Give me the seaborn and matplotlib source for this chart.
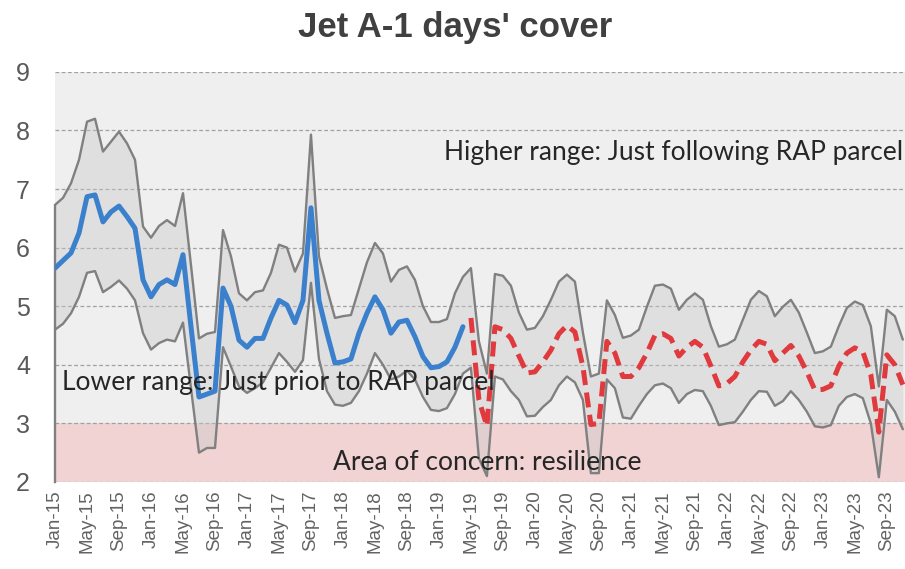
import numpy as np
import pandas as pd
import seaborn as sns
import matplotlib.pyplot as plt

# monthly series, Jan-15 .. Nov-23
months = pd.date_range("2015-01-01", periods=107, freq="MS")

upper = [6.73, 6.85, 7.1, 7.5, 8.15, 8.2, 7.64, 7.81, 7.98, 7.78, 7.5, 6.36,
         6.17, 6.37, 6.47, 6.37, 6.93, 5.7, 4.45, 4.53, 4.56, 6.3, 5.85, 5.22,
         5.1, 5.24, 5.27, 5.57, 6.05, 6.0, 5.59, 5.9, 7.93, 5.85, 5.3, 4.8,
         4.83, 4.85, 5.3, 5.75, 6.08, 5.9, 5.42, 5.62, 5.68, 5.45, 5.0, 4.73,
         4.73, 4.78, 5.22, 5.5, 5.65, 4.4, 3.85, 5.55, 5.52, 5.35, 4.89, 4.6,
         4.63, 4.83, 5.11, 5.42, 5.54, 5.42, 4.55, 3.8, 3.85, 5.1, 4.85, 4.46,
         4.5, 4.6, 4.99, 5.35, 5.37, 5.3, 4.94, 5.11, 5.22, 5.11, 4.66, 4.31,
         4.35, 4.43, 4.77, 5.11, 5.26, 5.17, 4.83, 4.99, 5.11, 4.89, 4.55, 4.2,
         4.23, 4.31, 4.66, 4.97, 5.08, 5.02, 4.66, 3.63, 4.94, 4.83, 4.43]

lower = [4.6, 4.7, 4.88, 5.16, 5.57, 5.6, 5.24, 5.33, 5.44, 5.3, 5.1, 4.54,
         4.26, 4.37, 4.43, 4.4, 4.72, 3.6, 2.5, 2.58, 2.58, 4.3, 3.97, 3.63,
         3.52, 3.6, 3.7, 3.95, 4.2, 4.05, 3.88, 4.08, 5.4, 4.1, 3.55, 3.32,
         3.3, 3.35, 3.55, 3.85, 4.2, 4.0, 3.75, 3.8, 3.9, 3.75, 3.45, 3.23,
         3.21, 3.26, 3.5, 3.85, 3.95, 2.4, 2.1, 3.8, 3.75, 3.55, 3.4, 3.12,
         3.13, 3.28, 3.4, 3.65, 3.8, 3.7, 3.4, 2.15, 2.15, 3.75, 3.6, 3.1,
         3.08, 3.3, 3.5, 3.65, 3.68, 3.6, 3.35, 3.5, 3.57, 3.55, 3.3, 2.97,
         3.0, 3.02, 3.2, 3.4, 3.55, 3.54, 3.3, 3.38, 3.55, 3.4, 3.2, 2.95,
         2.93, 2.97, 3.3, 3.45, 3.5, 3.43, 3.0, 2.08, 3.4, 3.2, 2.9]

# actual cover Jan-15 .. Apr-19
actual = [5.65, 5.78, 5.91, 6.25, 6.87, 6.9, 6.44, 6.61, 6.71, 6.53, 6.33, 5.45,
          5.16, 5.37, 5.45, 5.37, 5.88, 4.65, 3.45, 3.5, 3.55, 5.31, 5.0, 4.42,
          4.3, 4.45, 4.45, 4.8, 5.1, 5.02, 4.72, 5.1, 6.68, 5.1, 4.54, 4.03,
          4.05, 4.1, 4.54, 4.88, 5.16, 4.94, 4.54, 4.73, 4.76, 4.48, 4.14, 3.95,
          3.97, 4.05, 4.3, 4.65]

# projection May-19 .. Nov-23
forecast = [4.8, 3.4, 2.95, 4.65, 4.6, 4.45, 4.15, 3.86, 3.88, 4.05, 4.25, 4.53,
            4.67, 4.56, 3.97, 2.98, 3.0, 4.4, 4.2, 3.8, 3.8, 3.95, 4.2, 4.5,
            4.53, 4.45, 4.15, 4.3, 4.4, 4.3, 3.98, 3.64, 3.68, 3.8, 4.05, 4.25,
            4.4, 4.35, 4.07, 4.2, 4.33, 4.15, 3.88, 3.57, 3.58, 3.64, 3.98, 4.2,
            4.29, 4.22, 3.83, 2.85, 4.17, 4.0, 3.66]

n = len(months)
df = pd.DataFrame({
    "t": np.arange(n),
    "upper": upper,
    "lower": lower,
    "actual": actual + [np.nan] * (n - len(actual)),
    "forecast": [np.nan] * (n - len(forecast)) + forecast,
})

sns.set_style("white")
plt.rcParams["font.family"] = ["Liberation Sans", "DejaVu Sans"]

fig = plt.figure(figsize=(9.05, 5.69), dpi=100)
ax = fig.add_axes([0.0608, 0.153, 0.939, 0.7206])
ax.set_facecolor("#efefef")

ax.axhspan(2, 3, color="#f2d3d3", lw=0, zorder=0)
ax.fill_between(df["t"], df["lower"], df["upper"], color="#c8c8c8", alpha=0.4, lw=0, zorder=1)

sns.lineplot(data=df, x="t", y="upper", color="#808080", lw=1.7, ax=ax, zorder=3)
sns.lineplot(data=df, x="t", y="lower", color="#808080", lw=1.7, ax=ax, zorder=3)
sns.lineplot(data=df, x="t", y="actual", color="#3a80cc", lw=3.6, ax=ax, zorder=4)
sns.lineplot(data=df, x="t", y="forecast", color="#e03a3e", lw=3.6, ax=ax, zorder=4,
             linestyle=(0, (3.0, 1.5)))

ax.set_ylim(2, 9)
ax.set_xlim(0, 106.25)
ax.set_yticks(range(2, 10))
ax.yaxis.grid(True, linestyle=(0, (3, 2)), color="#a0a0a0", lw=0.9)
ax.set_axisbelow(True)

ticks = df["t"][::4]
ax.set_xticks(ticks)
ax.set_xticklabels(months[::4].strftime("%b-%y"), rotation=90)
ax.tick_params(axis="x", length=0, pad=6, labelsize=13.5, labelcolor="#636363")
ax.tick_params(axis="y", length=0, pad=23, labelsize=18, labelcolor="#595959")
for lab in ax.get_yticklabels():
    lab.set_horizontalalignment("center")
ax.set_xlabel("")
ax.set_ylabel("")

for s in ["top", "right", "bottom"]:
    ax.spines[s].set_visible(False)
ax.spines["left"].set_color("#808080")
ax.spines["left"].set_linewidth(1.7)
ax.spines["left"].set_bounds(2, upper[0])

note_font = ["Lato", "DejaVu Sans"]
ax.text(106.1, 7.62, "Higher range: Just following RAP parcel", ha="right", va="center",
        fontsize=19, color="#262626", family=note_font, zorder=6)
ax.text(0.9, 3.7, "Lower range: Just prior to RAP parcel", ha="left", va="center",
        fontsize=19, color="#262626", family=note_font, zorder=6)
ax.text(54, 2.33, "Area of concern: resilience", ha="center", va="center",
        fontsize=19, color="#262626", family=note_font, zorder=6)

fig.text(0.503, 1 - 28 / 569, "Jet A-1 days' cover", ha="center", va="center",
         fontsize=25, fontweight="bold", color="#404040")

fig.savefig("out.png", dpi=100)
